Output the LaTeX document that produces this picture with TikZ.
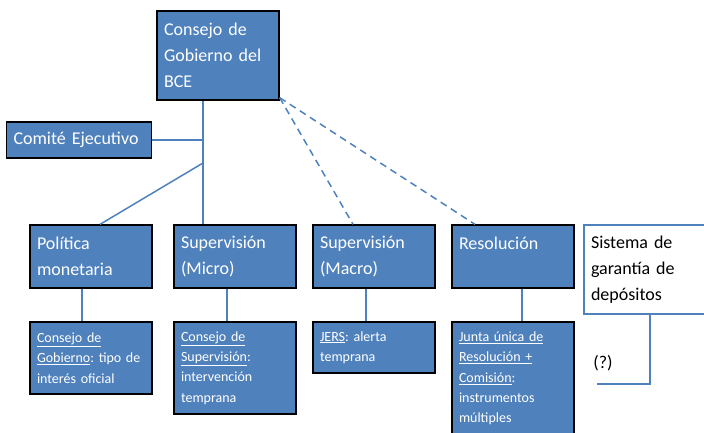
\documentclass[tikz,border=0pt]{standalone}
\usepackage{fontspec}
\setmainfont{Carlito}
\definecolor{azul}{HTML}{4F81BD}
\frenchspacing

\begin{document}
\begin{tikzpicture}[
    x=1pt, y=-1pt,
    organo/.style={
      rectangle,
      draw=black,
      fill=azul,
      line width=1.3pt,
      text=white,
      inner xsep=7pt,
      inner ysep=0pt,
      text width=108pt,
      minimum height=63pt,
      align=left,
      font=\fontsize{18}{26.3}\selectfont
    },
    nota/.style={
      organo,
      minimum height=0pt,
      inner ysep=5pt,
      font=\fontsize{14}{20.3}\selectfont
    },
    externo/.style={
      organo,
      draw=azul,
      fill=white,
      text=black
    },
    enlace/.style={
      draw=azul,
      line width=1.5pt
    },
    enlacedash/.style={
      enlace,
      dash pattern=on 7pt off 5pt
    }
  ]

    \useasboundingbox (0,0) rectangle (704,432);
    \clip (0,0) rectangle (704,432);

    % Top level
    \node[organo, minimum height=89pt] (bce) at (218,55.5) {Consejo de\\Gobierno del\\BCE};
    \node[organo, text width=131pt, minimum height=36pt] (comite) at (79,140) {Comité Ejecutivo};

    % Functions
    \node[organo] (politica) at (91,256.5) {Política\\monetaria};
    \node[organo] (micro) at (235,256.5) {Supervisión\\(Micro)};
    \node[organo] (macro) at (374,256.5) {Supervisión\\(Macro)};
    \node[organo] (resol) at (513,256.5) {Resolución\\\mbox{}};
    \node[externo, text width=110pt, minimum height=89pt] (sgd) at (646,269.5) {Sistema de\\garantía de\\depósitos};

    % Bodies and instruments
    \node[nota, minimum height=72pt] (subpol) at (91,358)
      {\underline{Consejo de}\\\underline{Gobierno}: tipo de\\interés oficial};
    \node[nota, minimum height=92pt] (submicro) at (235,368)
      {\underline{Consejo de}\\\underline{Supervisión}:\\intervención\\temprana};
    \node[nota, minimum height=51pt] (submacro) at (374,347.5)
      {\underline{JERS}: alerta\\temprana};
    \node[nota, minimum height=113pt] (subresol) at (513,378.5)
      {\underline{Junta única de}\\\underline{Resolución +}\\\underline{Comisión}:\\instrumentos\\múltiples};
    \node[font=\fontsize{18}{26.3}\selectfont, inner sep=0pt] (interrog) at (603,363) {(?)};

    % Connectors
    \coordinate (tronco) at (203,100);
    \coordinate (rama) at (203,163);
    \coordinate (fin) at (597,384);
    \draw[enlace] (bce.south -| tronco) -- (micro.north -| tronco);
    \draw[enlace] (comite.east) -- (comite.east -| tronco);
    \draw[enlace] (rama) -- ([xshift=9pt]politica.north);
    \draw[enlacedash] ([yshift=3pt]bce.south east) -- ([xshift=-21pt]macro.north);
    \draw[enlacedash] ([yshift=3pt]bce.south east) -- ([xshift=-38pt]resol.north);
    \draw[enlace] ([xshift=-9pt]politica.south) -- ([xshift=-9pt]subpol.north);
    \draw[enlace] ([xshift=-8pt]micro.south) -- ([xshift=-8pt]submicro.north);
    \draw[enlace] ([xshift=-8pt]macro.south) -- ([xshift=-8pt]submacro.north);
    \draw[enlace] ([xshift=9pt]resol.south) -- ([xshift=9pt]subresol.north);
    \draw[enlace] ([xshift=4pt]sgd.south) |- (fin);

  \end{tikzpicture}
\end{document}
